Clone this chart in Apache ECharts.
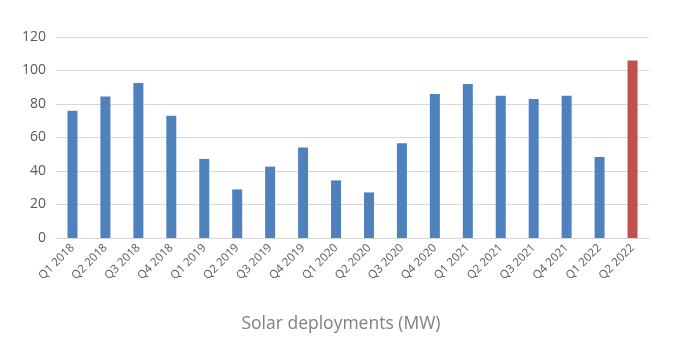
<!DOCTYPE html>
<html><head><meta charset="utf-8">
<script src="https://cdn.jsdelivr.net/npm/echarts@6/dist/echarts.min.js"></script>
<style>html,body{margin:0;padding:0;background:#fff}#c{width:682px;height:346px}</style>
</head><body><div id="c"></div>
<script>
const categories = ["Q1 2018","Q2 2018","Q3 2018","Q4 2018","Q1 2019","Q2 2019","Q3 2019","Q4 2019","Q1 2020","Q2 2020","Q3 2020","Q4 2020","Q1 2021","Q2 2021","Q3 2021","Q4 2021","Q1 2022","Q2 2022"];
const values = [76, 84.5, 92.5, 73, 47.2, 29, 42.6, 54, 34.4, 27.2, 56.5, 86, 92, 85, 83, 85, 48.4, 106];
const highlightIndex = 17;
const yTicks = [0, 20, 40, 60, 80, 100, 120];
const title = "Solar deployments (MW)";

const chart = echarts.init(document.getElementById('c'), null, {renderer: 'canvas'});
chart.setOption({
  animation: false,
  title: {text: title, left: 'center', top: 310, textStyle: {fontFamily: 'Open Sans', fontWeight: 'normal', fontSize: 17.5, color: '#808080'}},
  grid: {left: 56, right: 33, top: 37, bottom: 108},
  xAxis: {
    type: 'category', data: categories,
    axisLine: {lineStyle: {color: '#d9d9d9'}},
    axisTick: {show: false},
    axisLabel: {rotate: 45, fontFamily: 'Open Sans', fontSize: 11.5, color: '#595959', margin: 8, interval: 0}
  },
  yAxis: {
    type: 'value', min: yTicks[0], max: yTicks[yTicks.length-1], interval: 20,
    axisLine: {show: false}, axisTick: {show: false},
    splitLine: {lineStyle: {color: '#d9d9d9'}},
    axisLabel: {fontFamily: 'Open Sans', fontSize: 14, color: '#595959', margin: 10}
  },
  series: [{
    type: 'bar', barWidth: 10,
    data: values.map((v, i) => ({value: v, itemStyle: {color: i === highlightIndex ? '#C0504D' : '#4F81BD'}}))
  }]
});
</script></body></html>
